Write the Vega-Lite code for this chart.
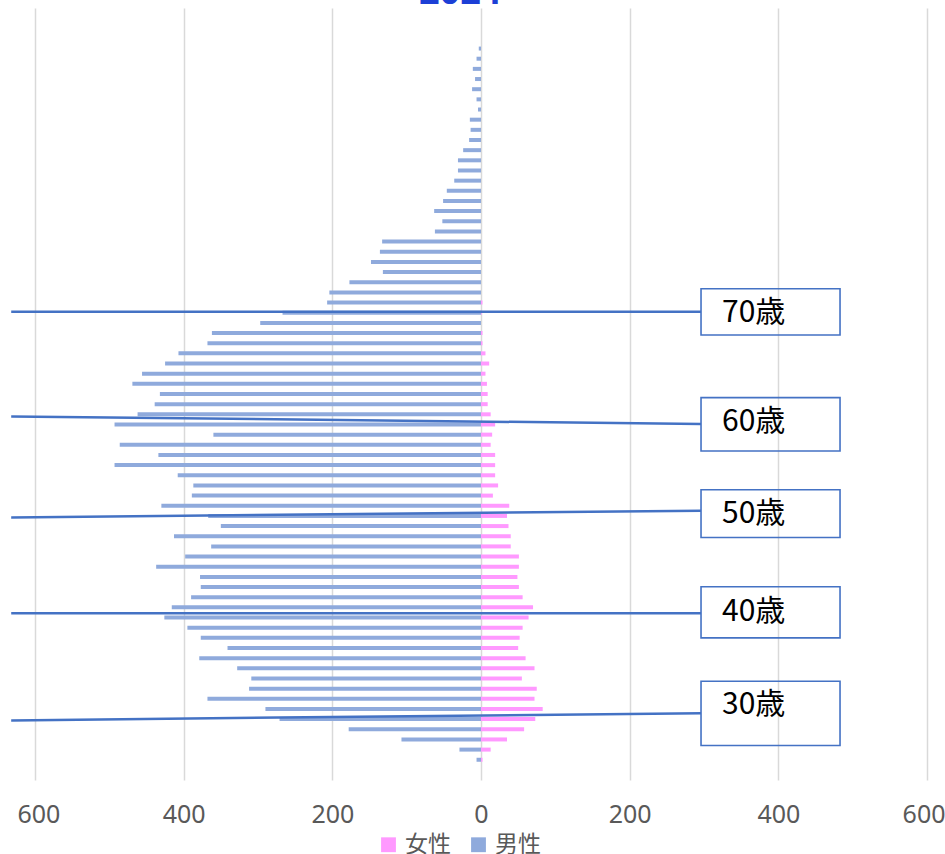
{
  "$schema": "https://vega.github.io/schema/vega-lite/v6.json",
  "autosize": {"type": "none"},
  "padding": {"left": 35, "top": 8, "right": 18, "bottom": 74},
  "width": 892,
  "height": 772,
  "background": "white",
  "config": {"view": {"stroke": null}, "font": "Noto Sans CJK JP"},
  "datasets": {
    "pop": [
      {"age": 96, "sex": "男性", "value": -3}, {"age": 95, "sex": "男性", "value": -6}, {"age": 94, "sex": "男性", "value": -11},
      {"age": 93, "sex": "男性", "value": -8}, {"age": 92, "sex": "男性", "value": -12}, {"age": 91, "sex": "男性", "value": -6},
      {"age": 90, "sex": "男性", "value": -4}, {"age": 89, "sex": "男性", "value": -15}, {"age": 88, "sex": "男性", "value": -14},
      {"age": 87, "sex": "男性", "value": -16}, {"age": 86, "sex": "男性", "value": -24}, {"age": 85, "sex": "男性", "value": -31},
      {"age": 84, "sex": "男性", "value": -31}, {"age": 83, "sex": "男性", "value": -36}, {"age": 82, "sex": "男性", "value": -46},
      {"age": 81, "sex": "男性", "value": -51}, {"age": 80, "sex": "男性", "value": -63}, {"age": 79, "sex": "男性", "value": -52},
      {"age": 78, "sex": "男性", "value": -62}, {"age": 77, "sex": "男性", "value": -133}, {"age": 76, "sex": "男性", "value": -136},
      {"age": 75, "sex": "男性", "value": -148}, {"age": 74, "sex": "男性", "value": -132}, {"age": 73, "sex": "男性", "value": -177},
      {"age": 72, "sex": "男性", "value": -204}, {"age": 71, "sex": "男性", "value": -207}, {"age": 70, "sex": "男性", "value": -267},
      {"age": 69, "sex": "男性", "value": -297}, {"age": 68, "sex": "男性", "value": -362}, {"age": 67, "sex": "男性", "value": -368},
      {"age": 66, "sex": "男性", "value": -407}, {"age": 65, "sex": "男性", "value": -425}, {"age": 64, "sex": "男性", "value": -456},
      {"age": 63, "sex": "男性", "value": -469}, {"age": 62, "sex": "男性", "value": -432}, {"age": 61, "sex": "男性", "value": -439},
      {"age": 60, "sex": "男性", "value": -462}, {"age": 59, "sex": "男性", "value": -493}, {"age": 58, "sex": "男性", "value": -360},
      {"age": 57, "sex": "男性", "value": -486}, {"age": 56, "sex": "男性", "value": -434}, {"age": 55, "sex": "男性", "value": -493},
      {"age": 54, "sex": "男性", "value": -408}, {"age": 53, "sex": "男性", "value": -387}, {"age": 52, "sex": "男性", "value": -389},
      {"age": 51, "sex": "男性", "value": -430}, {"age": 50, "sex": "男性", "value": -367}, {"age": 49, "sex": "男性", "value": -350},
      {"age": 48, "sex": "男性", "value": -413}, {"age": 47, "sex": "男性", "value": -363}, {"age": 46, "sex": "男性", "value": -398},
      {"age": 45, "sex": "男性", "value": -437}, {"age": 44, "sex": "男性", "value": -378}, {"age": 43, "sex": "男性", "value": -377},
      {"age": 42, "sex": "男性", "value": -390}, {"age": 41, "sex": "男性", "value": -416}, {"age": 40, "sex": "男性", "value": -426},
      {"age": 39, "sex": "男性", "value": -395}, {"age": 38, "sex": "男性", "value": -377}, {"age": 37, "sex": "男性", "value": -341},
      {"age": 36, "sex": "男性", "value": -379}, {"age": 35, "sex": "男性", "value": -328}, {"age": 34, "sex": "男性", "value": -309},
      {"age": 33, "sex": "男性", "value": -312}, {"age": 32, "sex": "男性", "value": -368}, {"age": 31, "sex": "男性", "value": -290},
      {"age": 30, "sex": "男性", "value": -271}, {"age": 29, "sex": "男性", "value": -178}, {"age": 28, "sex": "男性", "value": -107},
      {"age": 27, "sex": "男性", "value": -29}, {"age": 26, "sex": "男性", "value": -6},
      {"age": 71, "sex": "女性", "value": 2}, {"age": 70, "sex": "女性", "value": 1}, {"age": 68, "sex": "女性", "value": 2},
      {"age": 67, "sex": "女性", "value": 2}, {"age": 66, "sex": "女性", "value": 6}, {"age": 65, "sex": "女性", "value": 11},
      {"age": 64, "sex": "女性", "value": 6}, {"age": 63, "sex": "女性", "value": 8}, {"age": 62, "sex": "女性", "value": 9},
      {"age": 61, "sex": "女性", "value": 9}, {"age": 60, "sex": "女性", "value": 13}, {"age": 59, "sex": "女性", "value": 19},
      {"age": 58, "sex": "女性", "value": 15}, {"age": 57, "sex": "女性", "value": 13}, {"age": 56, "sex": "女性", "value": 19},
      {"age": 55, "sex": "女性", "value": 19}, {"age": 54, "sex": "女性", "value": 19}, {"age": 53, "sex": "女性", "value": 23},
      {"age": 52, "sex": "女性", "value": 16}, {"age": 51, "sex": "女性", "value": 38}, {"age": 50, "sex": "女性", "value": 35},
      {"age": 49, "sex": "女性", "value": 37}, {"age": 48, "sex": "女性", "value": 40}, {"age": 47, "sex": "女性", "value": 40},
      {"age": 46, "sex": "女性", "value": 51}, {"age": 45, "sex": "女性", "value": 51}, {"age": 44, "sex": "女性", "value": 49},
      {"age": 43, "sex": "女性", "value": 51}, {"age": 42, "sex": "女性", "value": 56}, {"age": 41, "sex": "女性", "value": 70},
      {"age": 40, "sex": "女性", "value": 64}, {"age": 39, "sex": "女性", "value": 56}, {"age": 38, "sex": "女性", "value": 52},
      {"age": 37, "sex": "女性", "value": 50}, {"age": 36, "sex": "女性", "value": 60}, {"age": 35, "sex": "女性", "value": 72},
      {"age": 34, "sex": "女性", "value": 55}, {"age": 33, "sex": "女性", "value": 75}, {"age": 32, "sex": "女性", "value": 72},
      {"age": 31, "sex": "女性", "value": 83}, {"age": 30, "sex": "女性", "value": 73}, {"age": 29, "sex": "女性", "value": 58},
      {"age": 28, "sex": "女性", "value": 35}, {"age": 27, "sex": "女性", "value": 13}, {"age": 26, "sex": "女性", "value": 2}
    ],
    "callouts": [
      {"label": "70歳", "lineLeft": 70.09, "lineRight": 70.09, "boxTop": 72.36, "boxBottom": 67.8, "textAge": 70.02},
      {"label": "60歳", "lineLeft": 59.79, "lineRight": 59.05, "boxTop": 61.64, "boxBottom": 56.39, "textAge": 59.28},
      {"label": "50歳", "lineLeft": 49.85, "lineRight": 50.51, "boxTop": 52.58, "boxBottom": 47.88, "textAge": 50.17},
      {"label": "40歳", "lineLeft": 40.43, "lineRight": 40.43, "boxTop": 43.03, "boxBottom": 38.0, "textAge": 40.5},
      {"label": "30歳", "lineLeft": 29.87, "lineRight": 30.59, "boxTop": 33.73, "boxBottom": 27.41, "textAge": 31.35}
    ],
    "heading": [
      {"text": "2024", "age": 100.4, "value": -28}
    ]
  },
  "layer": [
    {
      "data": {"name": "pop"},
      "mark": {"type": "bar", "orient": "horizontal", "size": 4},
      "encoding": {
        "y": {"field": "age", "type": "quantitative", "scale": {"domain": [24.5, 99.5], "nice": false, "zero": false}, "axis": null},
        "x": {"field": "value", "type": "quantitative", "stack": null,
              "scale": {"domain": [-600, 600], "nice": false},
              "axis": {"values": [-600, -400, -200, 0, 200, 400, 600], "labelExpr": "abs(datum.value)", "title": null,
                       "domain": false, "ticks": false, "grid": true, "gridColor": "#D9D9D9", "gridWidth": 1.5,
                       "labelFontSize": 25, "labelColor": "#595959", "labelPadding": 22, "labelFont": "Noto Sans",
                       "labelFlush": true, "labelFlushOffset": 18}},
        "color": {"field": "sex", "type": "nominal",
                  "scale": {"domain": ["女性", "男性"], "range": ["#FF99FF", "#8FAADC"]},
                  "legend": {"title": null, "orient": "none", "direction": "horizontal", "legendX": 342, "legendY": 825,
                             "symbolType": "square", "symbolSize": 220, "symbolStrokeWidth": 0, "labelFontSize": 23,
                             "labelColor": "#595959", "columnPadding": 16, "labelOffset": 5}}
      }
    },
    {
      "data": {"name": "heading"},
      "mark": {"type": "text", "align": "center", "baseline": "alphabetic", "fontSize": 36, "fontWeight": "bold", "color": "#1C3FD6", "font": "Noto Sans"},
      "encoding": {
        "x": {"field": "value", "type": "quantitative"},
        "y": {"field": "age", "type": "quantitative"},
        "text": {"field": "text"}
      }
    },
    {
      "data": {"name": "callouts"},
      "mark": {"type": "rule", "color": "#4472C4", "strokeWidth": 2.5},
      "encoding": {
        "x": {"datum": -632},
        "x2": {"datum": 296},
        "y": {"field": "lineLeft", "type": "quantitative"},
        "y2": {"field": "lineRight"}
      }
    },
    {
      "data": {"name": "callouts"},
      "mark": {"type": "rect", "fill": "transparent", "stroke": "#4472C4", "strokeWidth": 1.6},
      "encoding": {
        "x": {"datum": 296},
        "x2": {"datum": 483},
        "y": {"field": "boxTop", "type": "quantitative"},
        "y2": {"field": "boxBottom"}
      }
    },
    {
      "data": {"name": "callouts"},
      "mark": {"type": "text", "align": "left", "baseline": "middle", "fontSize": 30, "color": "#000000", "dx": 21},
      "encoding": {
        "x": {"datum": 296},
        "y": {"field": "textAge", "type": "quantitative"},
        "text": {"field": "label"}
      }
    }
  ]
}
